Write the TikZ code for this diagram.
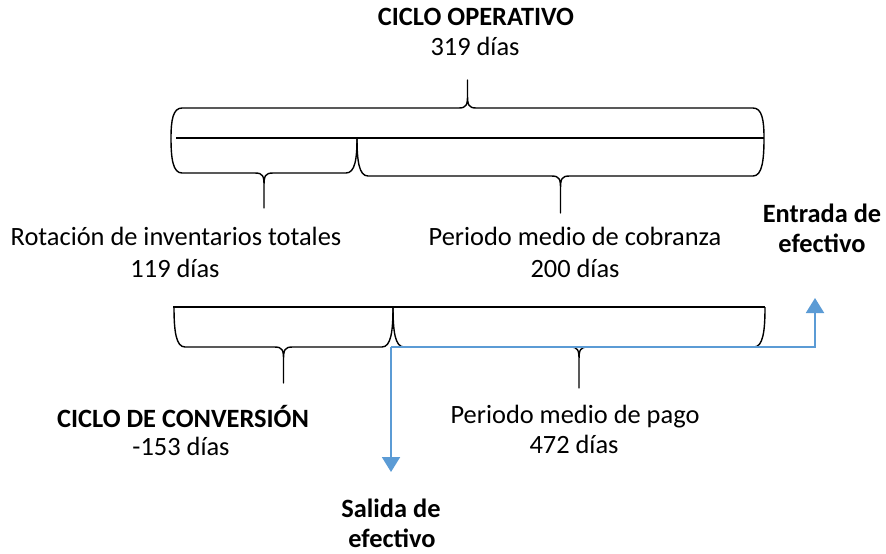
\documentclass[tikz,border=0pt]{standalone}
\usepackage{fontspec}
\setmainfont{Carlito}
\usetikzlibrary{arrows.meta}
\definecolor{flowblue}{HTML}{5B9BD5}
\tikzset{
  lbl/.style={anchor=base, inner sep=0pt, font=\fontsize{13.2}{15.5}\selectfont},
  hdr/.style={lbl, font=\fontsize{13.2}{15.5}\selectfont\bfseries},
  brace line/.style={line width=0.7pt, line join=round},
  flow/.style={draw=flowblue, line width=1pt, -{Triangle[width=9pt,length=7.5pt]}}
}
% brace: x1, x2, y of the ends, y of the body, y of the tip
\newcommand\wbrace[5]{%
  \pgfmathsetmacro\brMid{(#1+#2)/2}%
  \pgfmathsetmacro\brDir{(#5>#4) ? 1 : -1}%
  \draw[brace line] (#1,#3) .. controls (#1,{#3+0.6*(#4-#3)}) and ({#1+2},#4) .. ({#1+11},#4)
    -- ({\brMid-9},#4) .. controls ({\brMid-1},#4) and (\brMid,{#4+3*\brDir}) .. (\brMid,{#4+13*\brDir})
    -- (\brMid,#5) -- (\brMid,{#4+13*\brDir})
    .. controls (\brMid,{#4+3*\brDir}) and ({\brMid+1},#4) .. ({\brMid+9},#4)
    -- ({#2-11},#4) .. controls ({#2-2},#4) and (#2,{#3+0.6*(#4-#3)}) .. (#2,#3);
}

\begin{document}
\begin{tikzpicture}[x=0.5pt, y=-0.5pt]
  \useasboundingbox (0,0) rectangle (886,553);

  % operating cycle
  \wbrace{171}{764}{138}{108}{80}
  \draw[brace line] (176,138) -- (764,138);
  \wbrace{171}{357}{138}{173}{208}
  \wbrace{357}{764}{138}{176}{213}

  \node[hdr] (opTitle) at (476,25) {CICLO OPERATIVO};
  \node[lbl] (opDays) at (475,55) {319 días};
  \node[lbl] (invTitle) at (176,245) {Rotación de inventarios totales};
  \node[lbl] (invDays) at (175,277) {119 días};
  \node[lbl] (colTitle) at (575,245) {Periodo medio de cobranza};
  \node[lbl] (colDays) at (575,277) {200 días};

  % conversion cycle
  \draw[brace line] (173,307) -- (765,307);
  \wbrace{174}{393}{307}{347}{383}
  \wbrace{393}{765}{307}{347}{388}

  \node[hdr] (convTitle) at (183,427) {CICLO DE CONVERSIÓN};
  \node[lbl] (convDays) at (181,455) {-153 días};
  \node[lbl] (payTitle) at (575,423) {Periodo medio de pago};
  \node[lbl] (payDays) at (574,453) {472 días};

  % cash flows
  \node[hdr] (inTitle) at (822,222) {Entrada de};
  \node[hdr] (inSub) at (822,252) {efectivo};
  \node[hdr] (outTitle) at (391,517) {Salida de};
  \node[hdr] (outSub) at (392,547) {efectivo};

  \coordinate (corner) at (391,347);
  \coordinate (bend) at (815,347);
  \coordinate (inTip) at (815,298);
  \coordinate (outTip) at (391,472);
  \draw[flow] (corner) -- (bend) -- (inTip);
  \draw[flow] (corner) -- (outTip);
\end{tikzpicture}
\end{document}
